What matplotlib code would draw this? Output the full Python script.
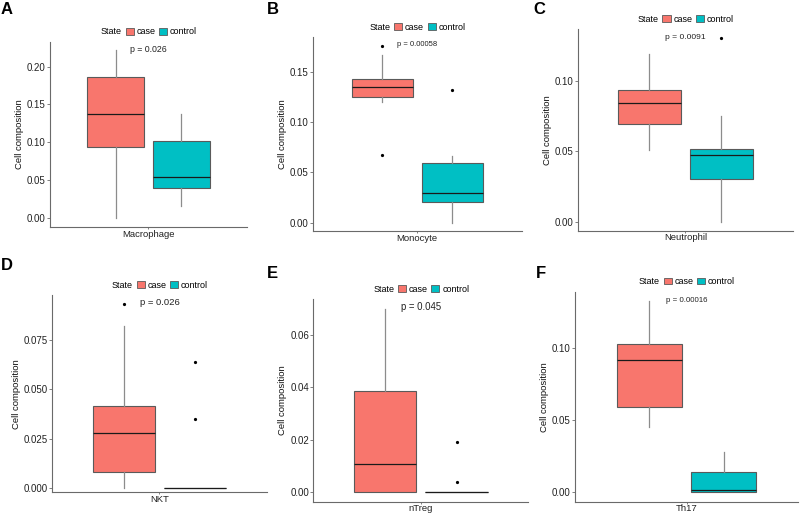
import numpy as np
import matplotlib.pyplot as plt
from matplotlib.patches import Patch
from matplotlib.ticker import FormatStrFormatter

plt.rcParams['font.family'] = ['Liberation Sans', 'DejaVu Sans']

# data
cells = ['Macrophage', 'Monocyte', 'Neutrophil', 'NKT', 'nTreg', 'Th17']
letters = ['A', 'B', 'C', 'D', 'E', 'F']
pvals = ['p = 0.026', 'p = 0.00058', 'p = 0.0091', 'p = 0.026', 'p = 0.045', 'p = 0.00016']
groups = ['case', 'control']

# whislo, q1, median, q3, whishi
case_stats = [
    [0.000, 0.094, 0.138, 0.187, 0.222],
    [0.1196, 0.1249, 0.135, 0.1424, 0.1666],
    [0.0508, 0.0693, 0.0844, 0.0936, 0.1189],
    [0.000, 0.0084, 0.0278, 0.0416, 0.0821],
    [0.000, 0.000, 0.0107, 0.0386, 0.0699],
    [0.0451, 0.0592, 0.0919, 0.1028, 0.1328],
]
control_stats = [
    [0.0159, 0.0397, 0.0535, 0.1016, 0.137],
    [0.000, 0.0206, 0.0292, 0.059, 0.0663],
    [0.000, 0.0303, 0.0473, 0.0518, 0.075],
    [0.000, 0.000, 0.000, 0.000, 0.000],
    [0.000, 0.000, 0.000, 0.000, 0.000],
    [0.000, 0.000, 0.0014, 0.0143, 0.0278],
]
case_out = [[], [0.1758, 0.0673], [], [0.0932], [], []]
control_out = [[], [0.1318], [0.130], [0.064, 0.035], [0.0191, 0.0040], []]

ylims = [(-0.0123, 0.2327), (-0.0082, 0.1845), (-0.0064, 0.1365),
         (-0.002, 0.0977), (-0.0036, 0.0736), (-0.0065, 0.1393)]
yticks = [[0, 0.05, 0.10, 0.15, 0.20], [0, 0.05, 0.10, 0.15], [0, 0.05, 0.10],
          [0, 0.025, 0.05, 0.075], [0, 0.02, 0.04, 0.06], [0, 0.05, 0.10]]
yfmt = ['%.2f', '%.2f', '%.2f', '%.3f', '%.2f', '%.2f']

colors = ['#F8766D', '#00BFC4']

# layout in pixels: left, right, top, bottom
W, H = 800, 514
panels = [(50, 247, 42, 227), (312.7, 521.7, 37, 231), (577.7, 793, 29.3, 230.7),
          (52.3, 266.7, 295, 492.3), (313.3, 528.3, 299.3, 501.7), (575, 798, 291.7, 501.7)]
letter_pos = [(1, 10), (267, 10), (533, 9.5), (1, 265), (267, 274), (536, 273)]
p_size = [6.3, 5.5, 6.1, 6.8, 6.9, 5.7]

fig = plt.figure(figsize=(8, 5.14), dpi=100)

for i in range(6):
    l, r, t, b = panels[i]
    ax = fig.add_axes([l / W, 1 - b / H, (r - l) / W, (b - t) / H])

    stats = []
    for s, out, g in [(case_stats[i], case_out[i], groups[0]),
                      (control_stats[i], control_out[i], groups[1])]:
        stats.append(dict(whislo=s[0], q1=s[1], med=s[2], q3=s[3], whishi=s[4],
                          fliers=out, label=g))
    bp = ax.bxp(stats, positions=[0.8, 1.2], widths=0.35, patch_artist=True,
                showcaps=False,
                boxprops=dict(edgecolor='#5a5a5a', linewidth=0.8),
                whiskerprops=dict(color='#8c8c8c', linewidth=0.9),
                medianprops=dict(color='#1a1a1a', linewidth=0.9),
                flierprops=dict(marker='o', markersize=1.3, markerfacecolor='black',
                                markeredgecolor='black'))
    for patch, c in zip(bp['boxes'], colors):
        patch.set_facecolor(c)

    ax.set_xlim(0.4, 1.6)
    ax.set_xticks([1])
    ax.set_xticklabels([cells[i]])
    ax.set_ylim(*ylims[i])
    ax.set_yticks(yticks[i])
    ax.yaxis.set_major_formatter(FormatStrFormatter(yfmt[i]))

    for sp in ['top', 'right']:
        ax.spines[sp].set_visible(False)
    for sp in ['left', 'bottom']:
        ax.spines[sp].set_color('#6a6a6a')
        ax.spines[sp].set_linewidth(0.8)
    ax.tick_params(length=2, width=0.6, color='#6a6a6a', labelcolor='#222222',
                   labelsize=7, pad=1)
    ax.tick_params(axis='x', length=1.5, pad=0.5, labelsize=6.8)
    ax.set_ylabel('Cell composition', fontsize=6.8, color='#111111', labelpad=2)

    ax.text(1.0, 0.96, pvals[i], transform=ax.get_xaxis_transform(),
            ha='center', va='center', fontsize=p_size[i], color='#222222')

    handles = [Patch(facecolor='none', edgecolor='none'),
               Patch(facecolor=colors[0], edgecolor='#5a5a5a', linewidth=0.6),
               Patch(facecolor=colors[1], edgecolor='#5a5a5a', linewidth=0.6)]
    hpx = b - t
    wpx = r - l
    ax.legend(handles, ['State'] + groups, ncol=3, loc='center',
              bbox_to_anchor=(0.5 - 5 / wpx, 1 + 10 / hpx), frameon=False,
              fontsize=6.5, handlelength=0.9, handleheight=0.7,
              handletextpad=0.3, columnspacing=0.4, borderaxespad=0, borderpad=0)

    lx, ly = letter_pos[i]
    fig.text(lx / W, 1 - ly / H, letters[i], fontsize=12, fontweight='bold',
             ha='left', va='center')

plt.savefig('out.png', dpi=100)
